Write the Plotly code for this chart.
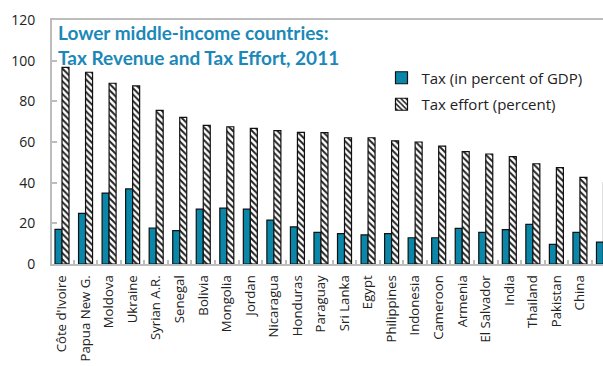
import plotly.graph_objects as go

# Lower middle-income countries, 2011
countries = [
    "Côte d'Ivoire", "Papua New G.", "Moldova", "Ukraine", "Syrian A.R.",
    "Senegal", "Bolivia", "Mongolia", "Jordan", "Nicaragua", "Honduras",
    "Paraguay", "Sri Lanka", "Egypt", "Philippines", "Indonesia", "Cameroon",
    "Armenia", "El Salvador", "India", "Thailand", "Pakistan", "China",
    "Guatemala",
]
tax_pct_gdp = [
    17.0, 24.9, 34.9, 36.9, 17.7, 16.4, 27.0, 27.5, 27.0, 21.6, 18.3,
    15.6, 14.9, 14.3, 14.9, 12.9, 12.9, 17.5, 15.6, 16.9, 19.5, 9.7, 15.6,
    10.8,
]
tax_effort = [
    96.7, 94.3, 88.9, 87.6, 75.6, 72.1, 68.2, 67.5, 66.7, 65.6, 64.7,
    64.6, 62.1, 62.1, 60.6, 60.0, 58.0, 55.3, 54.1, 52.8, 49.3, 47.4, 42.6,
    40.0,
]
y_ticks = [0, 20, 40, 60, 80, 100, 120]

TEAL = "#0a86a8"
AXIS_GREY = "#bdbdbd"
TEXT = "#222222"

fig = go.Figure()
fig.add_trace(go.Bar(
    x=countries, y=tax_pct_gdp, name="Tax (in percent of GDP)",
    marker=dict(color=TEAL, line=dict(color="#111111", width=1.2)),
    legendgroup="a",
))
fig.add_trace(go.Bar(
    x=countries, y=tax_effort, name="Tax effort (percent)",
    marker=dict(
        color="white",
        line=dict(color="#111111", width=1.2),
        pattern=dict(shape="\\", fgcolor="#222222", bgcolor="white",
                     size=4.5, solidity=0.45, fillmode="replace"),
    ),
    legendgroup="b",
))

fig.add_annotation(
    text="<b>Lower middle-income countries:<br>Tax Revenue and Tax Effort, 2011</b>",
    xref="paper", yref="paper", x=0.008, y=1.005, xanchor="left", yanchor="top",
    align="left", showarrow=False,
    font=dict(family="Lato", size=19, color="#1a88b8"),
)

fig.update_layout(
    width=603, height=366,
    margin=dict(l=52, r=0, t=20, b=102, autoexpand=False),
    paper_bgcolor="white", plot_bgcolor="white",
    barmode="group", bargap=0.405, bargroupgap=0,
    font=dict(family="Open Sans", color=TEXT),
    legend=dict(
        x=0.598, y=0.83, xanchor="left", yanchor="top",
        bgcolor="rgba(0,0,0,0)", tracegroupgap=4,
        font=dict(family="Open Sans", size=15, color=TEXT),
    ),
    xaxis=dict(
        range=[-0.425, 22.98], automargin=False,
        showline=True, linecolor=AXIS_GREY, linewidth=2, mirror=True,
        ticks="inside", tickson="boundaries", tickcolor=AXIS_GREY,
        ticklen=4, tickwidth=1.5, ticklabelstandoff=4,
        tickangle=-90, tickfont=dict(family="Open Sans", size=13.2, color=TEXT),
        showgrid=False,
    ),
    yaxis=dict(
        range=[0, 120], tickvals=y_ticks, automargin=False,
        showline=True, linecolor=AXIS_GREY, linewidth=2,
        ticks="inside", tickcolor=AXIS_GREY, ticklen=5, tickwidth=1.5,
        ticklabelstandoff=12,
        tickfont=dict(family="Open Sans", size=14, color=TEXT),
        showgrid=False, zeroline=False,
    ),
)

fig.write_html("out.html")
